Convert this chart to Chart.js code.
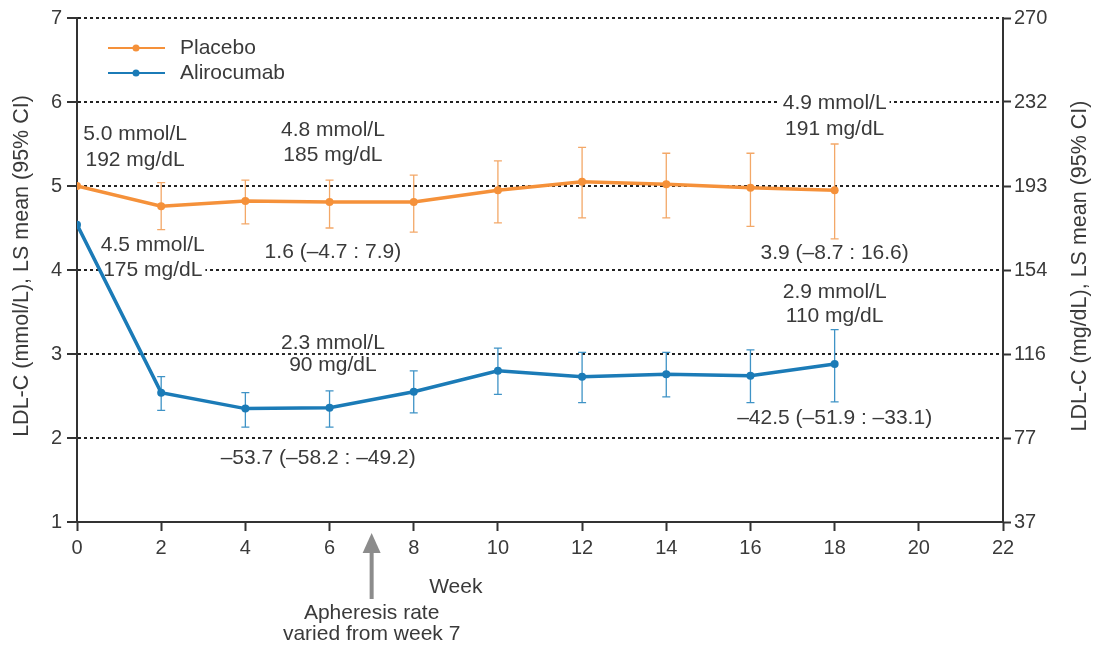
<!DOCTYPE html>
<html>
<head>
<meta charset="utf-8">
<script src="https://cdn.jsdelivr.net/npm/chart.js@4"></script>
<style>
  html, body { margin: 0; padding: 0; background: #fff; }
  #wrap { width: 1097px; height: 649px; }
</style>
</head>
<body>
<div id="wrap"><canvas id="ldlChart"></canvas></div>
<script>
const weeks = [0, 2, 4, 6, 8, 10, 12, 14, 16, 18];
const placeboMean = [5.0, 4.76, 4.82, 4.81, 4.81, 4.95, 5.05, 5.02, 4.98, 4.95];
const placeboLow = [null, 4.48, 4.55, 4.5, 4.45, 4.56, 4.62, 4.62, 4.52, 4.37];
const placeboHigh = [null, 5.04, 5.07, 5.07, 5.13, 5.3, 5.46, 5.39, 5.39, 5.5];
const alirocumabMean = [4.54, 2.54, 2.35, 2.36, 2.55, 2.8, 2.73, 2.76, 2.74, 2.88];
const alirocumabLow = [null, 2.33, 2.13, 2.13, 2.3, 2.52, 2.42, 2.49, 2.42, 2.43];
const alirocumabHigh = [null, 2.73, 2.54, 2.56, 2.8, 3.07, 3.02, 3.02, 3.05, 3.29];
const mgdlTicks = ["37", "77", "116", "154", "193", "232", "270"];

// text notes, placed in data units (week, mmol/L)
const notes = [
  { x: 1.38, y: 5.62, text: "5.0 mmol/L" },
  { x: 1.38, y: 5.31, text: "192 mg/dL" },
  { x: 6.08, y: 5.67, text: "4.8 mmol/L" },
  { x: 6.08, y: 5.37, text: "185 mg/dL" },
  { x: 18.0, y: 5.98, text: "4.9 mmol/L" },
  { x: 18.0, y: 5.68, text: "191 mg/dL" },
  { x: 1.8, y: 4.29, text: "4.5 mmol/L" },
  { x: 1.8, y: 4.0, text: "175 mg/dL" },
  { x: 6.08, y: 4.21, text: "1.6 (\u20134.7 : 7.9)" },
  { x: 18.0, y: 4.2, text: "3.9 (\u20138.7 : 16.6)" },
  { x: 18.0, y: 3.73, text: "2.9 mmol/L" },
  { x: 18.0, y: 3.45, text: "110 mg/dL" },
  { x: 6.08, y: 3.13, text: "2.3 mmol/L" },
  { x: 6.08, y: 2.87, text: "90 mg/dL" },
  { x: 5.73, y: 1.76, text: "\u201353.7 (\u201358.2 : \u201349.2)" },
  { x: 18.0, y: 2.24, text: "\u201342.5 (\u201351.9 : \u201333.1)" }
];
const apheresisWeek = 7;

const FONT = "'Liberation Sans', Arial, sans-serif";
const TEXT = "#3a3a3a";
const AXIS = "#333";
const ORANGE = "#F5913A";
const BLUE = "#1B7BB7";

const overlay = {
  id: "overlay",
  beforeDatasetsDraw(chart) {
    const { ctx, scales: { x, y } } = chart;
    ctx.save();
    ctx.font = "21px " + FONT;
    ctx.textAlign = "center";
    ctx.textBaseline = "middle";
    notes.forEach(n => {
      const px = x.getPixelForValue(n.x);
      const py = y.getPixelForValue(n.y);
      const w = ctx.measureText(n.text).width;
      ctx.fillStyle = "#fff";
      ctx.fillRect(px - w / 2 - 3, py - 10, w + 6, 20);
      ctx.fillStyle = TEXT;
      ctx.fillText(n.text, px, py);
    });

    // 95% CI bars
    const bars = (low, high, color) => {
      ctx.strokeStyle = color;
      ctx.lineWidth = 1.3;
      weeks.forEach((w, i) => {
        if (low[i] == null) return;
        const px = x.getPixelForValue(w);
        const y1 = y.getPixelForValue(low[i]);
        const y2 = y.getPixelForValue(high[i]);
        ctx.beginPath();
        ctx.moveTo(px, y1); ctx.lineTo(px, y2);
        ctx.moveTo(px - 4, y1); ctx.lineTo(px + 4, y1);
        ctx.moveTo(px - 4, y2); ctx.lineTo(px + 4, y2);
        ctx.stroke();
      });
    };
    bars(placeboLow, placeboHigh, "#F3A868");
    bars(alirocumabLow, alirocumabHigh, "#3F93C6");
    ctx.restore();
  },
  afterDraw(chart) {
    const { ctx, chartArea: area, scales: { x } } = chart;
    ctx.save();

    // legend
    chart.data.datasets.forEach((ds, i) => {
      const ly = area.top + 30 + i * 25;
      ctx.strokeStyle = ds.borderColor;
      ctx.lineWidth = 2;
      ctx.beginPath();
      ctx.moveTo(area.left + 31, ly);
      ctx.lineTo(area.left + 88, ly);
      ctx.stroke();
      ctx.fillStyle = ds.borderColor;
      ctx.beginPath();
      ctx.arc(area.left + 59, ly, 3.5, 0, Math.PI * 2);
      ctx.fill();
      ctx.fillStyle = TEXT;
      ctx.font = "21px " + FONT;
      ctx.textAlign = "left";
      ctx.textBaseline = "middle";
      ctx.fillText(ds.label, area.left + 103, ly);
    });

    // axis titles
    const midY = (area.top + area.bottom) / 2 - 4;
    ctx.font = "21.5px " + FONT;
    ctx.textAlign = "center";
    ctx.textBaseline = "middle";
    ctx.fillStyle = TEXT;
    [[22, "LDL-C (mmol/L), LS mean (95% CI)"], [1080, "LDL-C (mg/dL), LS mean (95% CI)"]].forEach(([tx, t]) => {
      ctx.save();
      ctx.translate(tx, midY);
      ctx.rotate(-Math.PI / 2);
      ctx.fillText(t, 0, 0);
      ctx.restore();
    });

    ctx.font = "21px " + FONT;
    ctx.fillText("Week", x.getPixelForValue(9), 587);

    // apheresis arrow
    const ax = x.getPixelForValue(apheresisWeek);
    ctx.fillStyle = "#8c8c8c";
    ctx.beginPath();
    ctx.moveTo(ax, 533);
    ctx.lineTo(ax + 9, 553);
    ctx.lineTo(ax - 9, 553);
    ctx.closePath();
    ctx.fill();
    ctx.fillRect(ax - 2, 552, 4, 47);
    ctx.fillStyle = TEXT;
    ctx.fillText("Apheresis rate", ax, 613);
    ctx.fillText("varied from week 7", ax, 634);
    ctx.restore();
  }
};

const ctx = document.getElementById("ldlChart");
const ldlChart = new Chart(ctx, {
  type: "line",
  data: {
    datasets: [
      {
        label: "Placebo",
        data: weeks.map((w, i) => ({ x: w, y: placeboMean[i] })),
        borderColor: ORANGE,
        backgroundColor: ORANGE,
        borderWidth: 3.5,
        pointRadius: 4,
        pointBorderWidth: 0,
        yAxisID: "y",
      },
      {
        label: "Alirocumab",
        data: weeks.map((w, i) => ({ x: w, y: alirocumabMean[i] })),
        borderColor: BLUE,
        backgroundColor: BLUE,
        borderWidth: 3.5,
        pointRadius: 4,
        pointBorderWidth: 0,
        yAxisID: "y",
      },
    ],
  },
  options: {
    responsive: true,
    maintainAspectRatio: false,
    animation: false,
    layout: { padding: { top: 18 } },
    scales: {
      x: {
        type: "linear",
        min: 0,
        max: 22,
        ticks: { stepSize: 2, padding: 5, color: TEXT, font: { size: 20, family: FONT } },
        grid: { drawOnChartArea: false, tickLength: 9, tickColor: AXIS, tickWidth: 2 },
        border: { color: AXIS, width: 2 },
        afterFit: function (scale) { scale.height = 127; },
      },
      y: {
        min: 1,
        max: 7,
        ticks: { stepSize: 1, padding: 5, color: TEXT, font: { size: 20, family: FONT } },
        grid: {
          color: function (c) { return c.tick && c.tick.value === 1 ? "rgba(0,0,0,0)" : "#222"; },
          lineWidth: 2,
          tickLength: 10,
          tickColor: AXIS,
          tickWidth: 2,
          tickBorderDash: [],
        },
        border: { color: AXIS, width: 2, dash: [3, 3] },
        afterFit: function (scale) { scale.width = 77; },
      },
      y1: {
        position: "right",
        min: 1,
        max: 7,
        ticks: {
          stepSize: 1,
          padding: 3,
          color: TEXT,
          font: { size: 20, family: FONT },
          callback: function (value, index) { return mgdlTicks[index]; },
        },
        grid: { drawOnChartArea: false, tickLength: 8, tickColor: AXIS, tickWidth: 2 },
        border: { color: AXIS, width: 2 },
        afterFit: function (scale) { scale.width = 94; },
      },
    },
    plugins: {
      legend: { display: false },
      tooltip: { enabled: false },
    },
  },
  plugins: [overlay],
});
</script>
</body>
</html>
